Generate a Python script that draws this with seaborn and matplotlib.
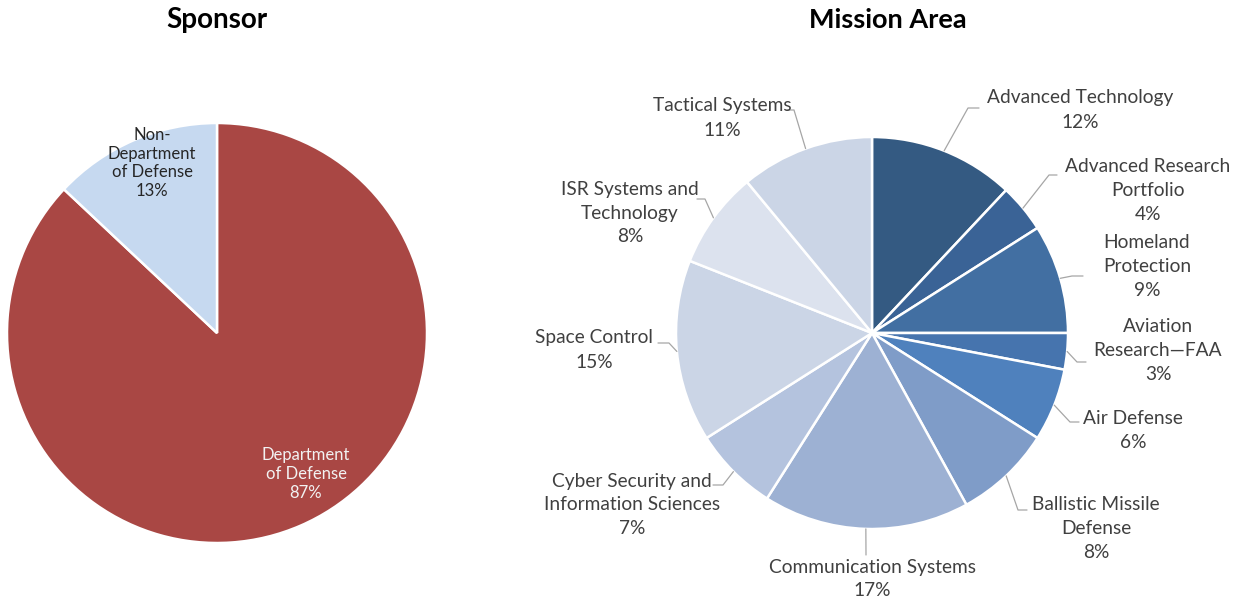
import numpy as np
import matplotlib.pyplot as plt
import seaborn as sns

sns.set_theme(style="white")
plt.rcParams["font.family"] = ["Lato", "DejaVu Sans"]

# --- data ---
sponsor_labels = ["Department\nof Defense", "Non-\nDepartment\nof Defense"]
sponsor_values = [87, 13]
sponsor_colors = ["#A94744", "#C6D9F0"]

mission_labels = [
    "Advanced Technology", "Advanced Research\nPortfolio", "Homeland\nProtection",
    "Aviation\nResearch\u2014FAA", "Air Defense", "Ballistic Missile\nDefense",
    "Communication Systems", "Cyber Security and\nInformation Sciences",
    "Space Control", "ISR Systems and\nTechnology", "Tactical Systems",
]
mission_values = [12, 4, 9, 3, 6, 8, 17, 7, 15, 8, 11]
mission_colors = ["#345A82", "#3A6396", "#426FA2", "#4674AE", "#4F81BD", "#7F9CC8",
                  "#9DB1D3", "#B4C3DE", "#CBD5E6", "#DCE2EE", "#CBD5E6"]

# label layout (pixel offsets from pie centre, y down): text centre, elbow, line end
label_pos = [(208, -223), (276, -143), (275, -66), (286, 17), (261, 97), (224, 195),
             (0, 246), (-240, 172), (-278, 17), (-242, -120), (-150, -215)]
elbow_pos = [(96, -225), (177, -158), (200, -57), (205, 29), (198, 89), (146, 177),
             (-6, 222), (-149, 152), (-203, 10), (-167, -134), (-78, -223)]
end_pos = [(107, -225), (185, -158), (211, -57), (214, 29), (207, 89), (155, 177),
           (-6, 222), (-159, 152), (-214, 10), (-175, -134), (-85, -223)]

W, H = 1249, 602
fig = plt.figure(figsize=(W / 100, H / 100), dpi=100)


def make_ax(cx, cy, r):
    ax = fig.add_axes([(cx - r) / W, (H - cy - r) / H, 2 * r / W, 2 * r / H])
    ax.axis("off")
    return ax


def fix_limits(ax):
    ax.set_xlim(-1, 1)
    ax.set_ylim(-1, 1)
    ax.set_aspect("equal")


# === Sponsor ===
R1 = 210
ax1 = make_ax(217, 333, R1)
ax1.pie(sponsor_values, colors=sponsor_colors, startangle=90, counterclock=False,
        radius=1, wedgeprops=dict(edgecolor="white", linewidth=1.8))
fix_limits(ax1)
pcts = [f"{v}%" for v in sponsor_values]
ax1.text(89 / R1, -141 / R1, f"{sponsor_labels[0]}\n{pcts[0]}", ha="center", va="center",
         fontsize=12, color="#F2F2F2", linespacing=1.2)
ax1.text(-65 / R1, 170 / R1, f"{sponsor_labels[1]}\n{pcts[1]}", ha="center", va="center",
         fontsize=12, color="#262626", linespacing=1.2)
fig.text(217 / W, 1 - 20 / H, "Sponsor", ha="center", va="center",
         fontsize=20, fontweight="bold", color="black")

# === Mission Area ===
R2 = 196
ax2 = make_ax(872, 333, R2)
wedges, _ = ax2.pie(mission_values, colors=mission_colors, startangle=90,
                    counterclock=False, radius=1,
                    wedgeprops=dict(edgecolor="white", linewidth=1.8))
fix_limits(ax2)
for i, w in enumerate(wedges):
    ang = np.deg2rad((w.theta1 + w.theta2) / 2)
    x0, y0 = np.cos(ang), np.sin(ang)
    ex, ey = elbow_pos[i][0] / R2, -elbow_pos[i][1] / R2
    nx, ny = end_pos[i][0] / R2, -end_pos[i][1] / R2
    ax2.plot([x0, ex, nx], [y0, ey, ny], color="#A6A6A6", lw=0.9, clip_on=False)
    tx, ty = label_pos[i][0] / R2, -label_pos[i][1] / R2
    ax2.text(tx, ty, f"{mission_labels[i]}\n{mission_values[i]}%", ha="center",
             va="center", fontsize=13.8, color="#404040", linespacing=1.5)
fig.text(888 / W, 1 - 20 / H, "Mission Area", ha="center", va="center",
         fontsize=19.5, fontweight="bold", color="black")

fig.savefig("out.png", dpi=100, facecolor="white")
